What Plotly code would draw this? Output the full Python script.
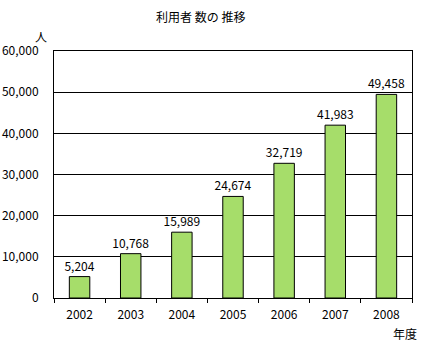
import plotly.graph_objects as go

years = ["2002", "2003", "2004", "2005", "2006", "2007", "2008"]
users = [5204, 10768, 15989, 24674, 32719, 41983, 49458]
y_ticks = [0, 10000, 20000, 30000, 40000, 50000, 60000]
y_ticklabels = ["0", "10,000", "20,000", "30,000", "40,000", "50,000", "60,000"]

FONT = "Noto Sans CJK JP, Liberation Sans, sans-serif"

W, H = 429, 343
l, r, t, b = 54, 17, 51, 45
pw, ph = W - l - r, H - t - b

fig = go.Figure(go.Bar(
    x=years, y=users,
    marker=dict(color="#A6DD6A", line=dict(color="black", width=1)),
    width=0.4,
    text=[f"{v:,}" for v in users],
    textposition="outside",
    constraintext="none",
    textfont=dict(size=12, color="black", family=FONT),
    cliponaxis=False,
))

def ann(text, px, py):
    return dict(text=text, x=(px - l) / pw, y=(H - b - py) / ph,
                xref="paper", yref="paper", showarrow=False,
                xanchor="center", yanchor="middle", font=dict(size=12))

fig.update_layout(
    width=W, height=H,
    margin=dict(l=l, r=r, t=t, b=b),
    paper_bgcolor="white", plot_bgcolor="white",
    showlegend=False,
    font=dict(family=FONT, size=12, color="black"),
    xaxis=dict(
        type="category", showline=True, linecolor="black", linewidth=1, mirror=True,
        ticks="outside", tickson="boundaries", ticklen=4, tickcolor="black",
        tickfont=dict(size=12), showgrid=False, automargin=False,
        ticklabelstandoff=6,
    ),
    yaxis=dict(
        range=[0, 60000], tickvals=y_ticks, ticktext=y_ticklabels,
        showline=True, linecolor="black", linewidth=1, mirror=True,
        showgrid=True, gridcolor="black", gridwidth=1,
        ticks="", ticklabelstandoff=12, tickfont=dict(size=12), zeroline=False,
        automargin=False,
    ),
    annotations=[
        ann("利用者 数の 推移", 200, 16),
        ann("人", 41, 36),
        ann("年度", 405, 333),
    ],
)

fig.write_html("out.html")
